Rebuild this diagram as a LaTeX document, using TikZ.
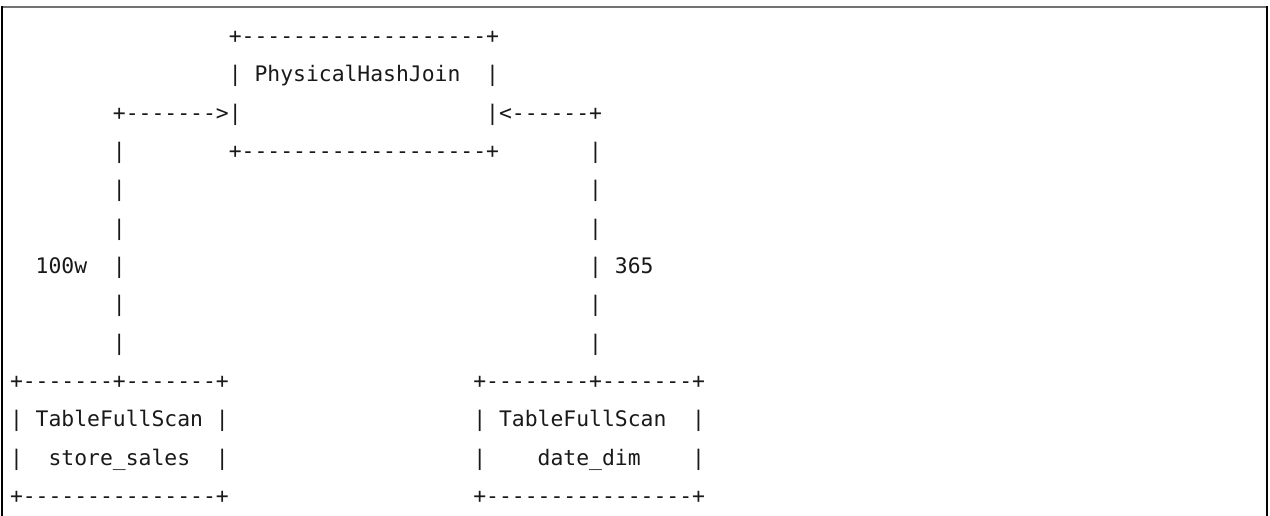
\documentclass[tikz,border=0pt]{standalone}
\usepackage{fontspec}
\setmonofont{DejaVu Sans Mono}
\tikzset{
  ascii/.style={anchor=base west, inner sep=0pt, outer sep=0pt,
    font=\ttfamily\fontsize{21.38}{24}\selectfont, text=black!90},
  frameline/.style={line width=1.4pt, black},
  frametop/.style={line width=2pt, black!55}
}
% \At{name}{row}{column}{text}
\newcommand{\At}[4]{\node[ascii] (#1) at ({10+#3*12.87},{43.67+(#2-1)*38.33}) {#4};}
\begin{document}
\begin{tikzpicture}[x=1pt,y=-1pt]
\useasboundingbox (0,0) rectangle (1270,516);
% frame
\draw[frametop] (1.3,7) -- (1267.7,7);
\draw[frameline] (2,6) -- (2,516);
\draw[frameline] (1267,6) -- (1267,516);
% row 1
\At{r1a}{1}{17}{+-------------------+}
% row 2
\At{r2a}{2}{17}{|}
\At{r2b}{2}{19}{PhysicalHashJoin}
\At{r2c}{2}{37}{|}
% row 3
\At{r3a}{3}{8}{+------->|}
\At{r3b}{3}{37}{|<------+}
% row 4
\At{r4a}{4}{8}{|}
\At{r4b}{4}{17}{+-------------------+}
\At{r4c}{4}{45}{|}
% rows 5-6
\At{r5a}{5}{8}{|}
\At{r5b}{5}{45}{|}
\At{r6a}{6}{8}{|}
\At{r6b}{6}{45}{|}
% row 7
\At{r7a}{7}{2}{100w}
\At{r7b}{7}{8}{|}
\At{r7c}{7}{45}{|}
\At{r7d}{7}{47}{365}
% rows 8-9
\At{r8a}{8}{8}{|}
\At{r8b}{8}{45}{|}
\At{r9a}{9}{8}{|}
\At{r9b}{9}{45}{|}
% row 10
\At{r10a}{10}{0}{+-------+-------+}
\At{r10b}{10}{36}{+--------+-------+}
% row 11
\At{r11a}{11}{0}{|}
\At{r11b}{11}{2}{TableFullScan}
\At{r11c}{11}{16}{|}
\At{r11d}{11}{36}{|}
\At{r11e}{11}{38}{TableFullScan}
\At{r11f}{11}{53}{|}
% row 12
\At{r12a}{12}{0}{|}
\At{r12b}{12}{3}{store\_sales}
\At{r12c}{12}{16}{|}
\At{r12d}{12}{36}{|}
\At{r12e}{12}{41}{date\_dim}
\At{r12f}{12}{53}{|}
% row 13
\At{r13a}{13}{0}{+---------------+}
\At{r13b}{13}{36}{+----------------+}
\end{tikzpicture}
\end{document}
